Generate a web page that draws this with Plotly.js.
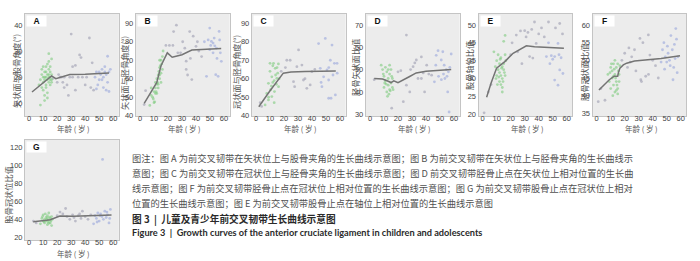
<!DOCTYPE html>
<html><head><meta charset="utf-8">
<script src="https://cdn.plot.ly/plotly-3.0.1.min.js"></script>
<style>html,body{margin:0;padding:0;background:#fff;}#chart{width:700px;height:261px;}</style>
</head><body><div id="chart"></div>
<script>
// ---------- DATA ----------
const xTickVals = [0, 10, 20, 30, 40, 50, 60];
const xTickText = ['0', '10', '20', '30', '40', '50', '60'];
const xTitle = '年龄 ( 岁 )';
const panelLetters = ['A', 'B', 'C', 'D', 'E', 'F', 'G'];
const yTitles = ['矢状面与股骨角度(°)', '矢状面与胫骨角度(°)', '冠状面与胫骨角度(°)', '胫骨矢状面比值', '股骨轴位比值', '胫骨冠状面比值', '股骨冠状位比值'];

// Panel A
const aYTicks = [10, 20, 30, 40];
const aYTickText = ['10', '20', '30', '40'];
const aGreenX = [8, 7, 8, 9, 9, 10, 10, 10, 11, 11, 11, 12, 12, 12, 12, 13, 13, 13, 13, 14, 14, 14, 14, 14, 15, 15, 15, 15, 16, 16, 16, 10, 11, 13, 9, 12, 15, 16, 14, 11];
const aGreenY = [9.3, 17, 19, 21, 23, 18, 20, 15, 22, 19, 11, 17, 20, 24, 16, 19, 21, 25, 12, 20, 18, 23, 26, 29, 20, 17, 22, 24, 19, 21, 27, 24, 13, 14, 16, 22, 19, 18, 21, 20];
const aGrayX = [17, 20, 21, 22, 24, 25, 25, 27, 28, 30, 31, 31, 33, 33, 35, 36, 37, 38, 40, 41, 43, 44, 45, 46, 29, 23];
const aGrayY = [19.5, 18, 21, 20, 18, 20, 16, 17, 13, 36.5, 24, 20, 24.5, 15, 20, 28.5, 27.5, 20, 17, 20, 35, 16, 25.5, 15, 20, 20];
const aBlueX = [47, 48, 49, 50, 51, 52, 52, 53, 54, 54, 55, 55, 56, 56, 57, 57, 58, 53, 50, 48];
const aBlueY = [20, 22, 17, 22, 21, 23, 19, 20, 24, 22, 15, 21, 18, 28, 14.5, 22, 23, 16, 19, 15.5];
const aLineX = [2, 8, 14, 16, 19, 23, 29, 40, 50, 57];
const aLineY = [14.3, 17, 19.8, 20.5, 19.4, 20, 21, 21.1, 21.3, 21.6];

// Panel B
const bYTicks = [40, 50, 60, 70, 80, 90];
const bYTickText = ['40', '50', '60', '70', '80', '90'];
const bGreenX = [7, 8, 9, 9.5, 10, 10.5, 11, 11, 11.5, 12, 12, 12.5, 13, 13, 13.5, 14, 14, 14.5, 15, 15, 15.5, 16, 16, 16.5, 10, 12, 13, 14, 15, 11, 8, 14];
const bGreenY = [45.5, 55, 50, 49, 47, 47.5, 52, 55, 53, 57, 60, 58, 62, 55, 64, 66, 60, 67, 70, 63, 68, 72, 65, 75, 53, 52, 57, 62, 58, 58, 51, 70];
const bGrayX = [3, 4, 18.5, 21, 23.5, 26, 24, 30.5, 32, 33, 33, 34, 35.5, 37, 38, 40, 42, 44, 36, 29, 27, 41];
const bGrayY = [46, 53.5, 78, 78, 78, 89, 85.5, 80, 76.5, 69.5, 65, 62, 85.5, 59.5, 83, 77.5, 75, 72, 71, 74, 74, 80];
const bBlueX = [49.8, 48.7, 51, 52.2, 53.4, 54.6, 56.5, 56.9, 57.4, 58.1, 47.5, 54.1, 55.8, 52.2, 49.8, 46, 50.5, 53, 55];
const bBlueY = [87.4, 81, 80.2, 79.3, 77.8, 76.6, 85.6, 81, 74, 69.4, 61.3, 62.2, 61.3, 74, 75.7, 80, 78, 82, 71];
const bLineX = [3, 7, 12, 15, 19.5, 23, 30, 37, 45, 50, 58];
const bLineY = [46.6, 51.5, 58, 67, 74, 71.6, 73, 75.5, 75.8, 76, 76.3];

// Panel C
const cYTicks = [40, 50, 60, 70, 80, 90];
const cYTickText = ['40', '50', '60', '70', '80', '90'];
const cGreenX = [6.5, 8.9, 10, 12.5, 11.3, 13.7, 14.9, 16.1, 13.2, 11.3, 8.9, 7.7, 10, 12, 14, 15, 16, 11, 13, 9, 12, 14.5, 10.5, 15.5, 13, 16.5];
const cGreenY = [45.8, 48.5, 68.3, 68.3, 61, 65.6, 60.2, 55.7, 53, 50.3, 57.5, 52, 64, 58, 62, 66, 68, 56, 59, 50, 67, 57, 54, 63, 47, 60];
const cGrayX = [22, 24.4, 30.4, 26.8, 29.2, 32.8, 27.6, 33.9, 38.7, 39.9, 36.3, 21, 35, 42, 18, 3, 4];
const cGrayY = [70, 70, 75.6, 58.4, 66.5, 67.4, 55.7, 59.3, 56.6, 63.8, 54.8, 66, 60, 65, 64, 47, 45];
const cBlueX = [44.7, 49.5, 54.3, 53.1, 56, 57.9, 50.7, 48.3, 51.9, 47.1, 51.9, 53.6, 56.7, 45.9, 55, 52, 58, 46.5];
const cBlueY = [79, 81.8, 78.2, 70, 68.3, 68.3, 64.7, 61, 59.3, 55.7, 49.4, 49.4, 51.2, 65.6, 62, 66, 63, 58];
const cLineX = [2, 10, 19.5, 25, 35, 45, 57];
const cLineY = [44.8, 53.5, 63, 63.6, 63.9, 64.1, 64.2];

// Panel D
const dYTicks = [30, 40, 50, 60, 70];
const dYTickText = ['30', '40', '50', '60', '70'];
const dGreenX = [8, 9, 10, 10, 11, 11, 12, 12, 13, 13, 14, 14, 15, 15, 16, 16, 12.5, 13.5, 14.5, 15.5, 11.5, 10.5, 9.5, 16.5, 14, 13];
const dGreenY = [52, 50, 47, 42, 51, 45, 49, 40, 46, 43, 41, 48, 50, 44, 42, 46, 38, 39, 40.5, 47, 43.5, 44, 48, 41, 52, 50];
const dGrayX = [3, 20, 26, 15.5, 23.8, 28.4, 30.8, 33.1, 36.7, 34.3, 36.7, 39, 29, 22, 42, 26, 32, 40.5, 44, 38];
const dGrayY = [45.5, 49, 65.5, 32.7, 35.6, 40, 51.3, 54.3, 55.7, 46, 46, 40, 50, 49.5, 48, 43, 53, 52, 47.5, 48.5];
const dBlueX = [48.6, 47.3, 50.9, 52, 53, 54.5, 55, 56, 57, 58, 49, 51, 53.5, 55.5, 56.5, 47, 46, 52.5];
const dBlueY = [58.5, 56.4, 54.3, 58, 52, 50, 47, 49, 51, 57, 47, 45.5, 46, 40, 31, 52, 44.5, 48];
const dLineX = [3, 9, 13, 15, 17, 20, 28, 33, 40, 48, 55, 58];
const dLineY = [46, 45.8, 44.8, 44.2, 45, 44.1, 46.8, 48.5, 49.3, 49.7, 50, 50];

// Panel E (tick labels as printed in the source)
const eYTicks = [20, 26, 32, 38, 44, 50];
const eYTickText = ['20', '25', '30', '35', '45', '50'];
const eGreenX = [8, 9, 10, 10, 11, 11, 12, 12, 12, 13, 13, 13, 14, 14, 14, 15, 15, 15, 16, 16, 16, 11.5, 12.5, 13.5, 14.5, 15.5, 10.5, 9.5, 16.5, 14];
const eGreenY = [41, 36, 33, 38, 35, 40, 31, 34, 37, 30, 33, 39, 32, 36, 29, 35, 37, 44.5, 40, 46.5, 33, 32.5, 38.5, 35.5, 31, 34, 30, 32, 38, 27.5];
const eGrayX = [1, 4, 6, 20, 24, 27, 30, 32.3, 37, 38.2, 33.5, 35.8, 28, 42, 44, 40, 21, 25, 31, 35, 47, 52, 55, 57];
const eGrayY = [20.5, 27.5, 30, 40, 46.6, 48, 48.1, 47.5, 51, 43.8, 39.4, 38.9, 37, 49, 46, 47, 44, 41, 46, 48.5, 51, 49, 50.5, 47];
const eBlueX = [45.5, 49, 51.4, 53.8, 55, 57.3, 51.4, 53.8, 47, 50, 54.5, 48, 56];
const eBlueY = [39.4, 39.7, 39.4, 43.8, 34.9, 33.7, 31.5, 29.8, 44, 38.5, 40, 37, 39];
const eLineX = [2.8, 6, 9.9, 15.8, 21.7, 27, 31.2, 37, 45, 58];
const eLineY = [25.7, 30.5, 35.5, 37.7, 40.5, 42, 43, 42.7, 42.5, 42.2];

// Panel F
const fYTicks = [35, 40, 45, 50, 55, 60];
const fYTickText = ['35', '40', '45', '50', '55', '60'];
const fGreenX = [8, 9, 10, 10, 11, 11, 12, 12, 13, 13, 14, 14, 15, 15, 15, 16, 16, 12.5, 13.5, 14.5, 11.5, 10.5, 9.5, 16.5, 14, 13, 15.5, 12];
const fGreenY = [46, 44, 48, 42, 47, 45, 43, 49, 41, 46, 44, 48, 42, 49, 40.5, 46, 44, 47.5, 45, 43, 40, 49, 46.5, 48.5, 41.5, 50, 47, 45.5];
const fGrayX = [1.1, 5.9, 3, 18, 20, 22, 25, 27, 30.9, 33, 36.9, 32, 35, 38, 40, 28, 24, 42, 44, 23, 31.5, 37];
const fGrayY = [38.3, 38.7, 42, 50, 52, 48, 51, 53, 56.2, 55, 57.2, 44, 45.5, 51.5, 50, 47, 49.5, 48.5, 45, 53.5, 44.5, 46];
const fBlueX = [47, 48, 49, 50, 51, 52, 53, 54, 55, 56, 57, 58, 48.5, 50.5, 52.5, 54.5, 56.5, 46, 55.5, 57.5];
const fBlueY = [53, 55, 51, 49.5, 52, 50, 57, 53, 48, 50.5, 56, 51, 47.5, 54, 48.5, 44.5, 59, 49.5, 54.5, 46.5];
const fLineX = [1.6, 5, 9, 12.5, 14, 15, 15.5, 16.6, 19, 21.4, 27, 34.5, 46, 59.5];
const fLineY = [41.6, 43, 44.5, 45.5, 45.6, 45.5, 46.5, 47.8, 48.7, 49.2, 49.8, 50.1, 50.5, 51.3];

// Panel G
const gYTicks = [20, 40, 60, 80, 100, 120];
const gYTickText = ['20', '40', '60', '80', '100', '120'];
const gGreenX = [8, 9, 10, 10, 11, 11, 12, 12, 13, 13, 14, 14, 15, 15, 16, 16, 12.5, 13.5, 14.5, 15.5, 11.5, 10.5, 9.5, 16.5, 14, 13];
const gGreenY = [35, 41, 38, 45, 40, 36, 42, 38, 34, 44, 39, 47, 36, 41, 43, 33, 39.5, 37, 42.5, 38, 46, 37.5, 43, 40, 35.5, 41.5];
const gGrayX = [3, 5, 20, 22, 24, 27, 29, 31, 32, 33, 35, 37, 38, 40, 42, 44, 26, 36];
const gGrayY = [38, 36, 44, 48, 46, 43, 40, 45, 42, 38, 44, 41, 49, 43, 40, 45, 52, 46];
const gBlueX = [46, 47, 48, 49, 50, 51, 52, 52.4, 53, 54, 55, 56, 57, 58, 48.5, 55.5, 57.5, 50.5];
const gBlueY = [35, 44, 41, 47, 38, 46, 43, 106.5, 40, 49, 42, 45, 36, 51, 37, 48, 41, 44];
const gLineX = [2.9, 8, 12.4, 15, 18.4, 21.9, 31.4, 40, 50.5, 58.8];
const gLineY = [37.3, 37.8, 38.9, 39.5, 41.8, 43.7, 43.3, 43.5, 43.7, 44.7];

// Caption text
const captionLines = [
  '图注：图 A 为前交叉韧带在矢状位上与股骨夹角的生长曲线示意图；图 B 为前交叉韧带在矢状位上与胫骨夹角的生长曲线示',
  '意图；图 C 为前交叉韧带在冠状位上与胫骨夹角的生长曲线示意图；图 D 前交叉韧带胫骨止点在矢状位上相对位置的生长曲',
  '线示意图；图 F 为前交叉韧带胫骨止点在冠状位上相对位置的生长曲线示意图；图 G 为前交叉韧带股骨止点在冠状位上相对',
  '位置的生长曲线示意图；图 E 为前交叉韧带股骨止点在轴位上相对位置的生长曲线示意图'
];
const figTitleCN = '图 3  |  儿童及青少年前交叉韧带生长曲线示意图';
const figTitleEN = 'Figure 3  |  Growth curves of the anterior cruciate ligament in children and adolescents';

// ---------- LAYOUT ----------
const W = 700, H = 261;
const panels = [
  {gx: aGreenX, gy: aGreenY, px: aGrayX, py: aGrayY, bx: aBlueX, by: aBlueY, lx: aLineX, ly: aLineY, tv: aYTicks, tt: aYTickText},
  {gx: bGreenX, gy: bGreenY, px: bGrayX, py: bGrayY, bx: bBlueX, by: bBlueY, lx: bLineX, ly: bLineY, tv: bYTicks, tt: bYTickText},
  {gx: cGreenX, gy: cGreenY, px: cGrayX, py: cGrayY, bx: cBlueX, by: cBlueY, lx: cLineX, ly: cLineY, tv: cYTicks, tt: cYTickText},
  {gx: dGreenX, gy: dGreenY, px: dGrayX, py: dGrayY, bx: dBlueX, by: dBlueY, lx: dLineX, ly: dLineY, tv: dYTicks, tt: dYTickText},
  {gx: eGreenX, gy: eGreenY, px: eGrayX, py: eGrayY, bx: eBlueX, by: eBlueY, lx: eLineX, ly: eLineY, tv: eYTicks, tt: eYTickText},
  {gx: fGreenX, gy: fGreenY, px: fGrayX, py: fGrayY, bx: fBlueX, by: fBlueY, lx: fLineX, ly: fLineY, tv: fYTicks, tt: fYTickText},
  {gx: gGreenX, gy: gGreenY, px: gGrayX, py: gGrayY, bx: gBlueX, by: gBlueY, lx: gLineX, ly: gLineY, tv: gYTicks, tt: gYTickText}
];
// [left, right, top, bottom] in px
const boxes = [
  [25, 118.8, 13.5, 116], [135.8, 229.6, 13.5, 116], [251.8, 345.6, 13.5, 116],
  [365.8, 459.6, 13.5, 116], [478.5, 572.3, 13.5, 116], [592.5, 686.3, 13.5, 116],
  [25, 118.8, 140, 240]
];
const yRanges = [[5.1, 44.4], [39.8, 95.3], [39.8, 95.3], [29.2, 75.15], [19.43, 53.86], [34.24, 63.26], [17, 128.1]];
const yTitlePos = [[15.5, 71.5], [124, 73], [236, 72], [355, 68], [469, 66], [584, 73], [7.5, 195]];

const CJK = '"Noto Sans CJK SC", sans-serif';
const tickFont = {family: '"Liberation Sans", Arial, sans-serif', size: 7.5, color: '#444'};
const traces = [];
const layout = {
  width: W, height: H, margin: {l: 0, r: 0, t: 0, b: 0},
  paper_bgcolor: '#ffffff', plot_bgcolor: '#ececec', showlegend: false,
  annotations: [], shapes: []
};
const mk = (c) => ({color: c, size: 2.8, opacity: 0.6});

panels.forEach((p, i) => {
  const xa = i === 0 ? 'x' : 'x' + (i + 1);
  const ya = i === 0 ? 'y' : 'y' + (i + 1);
  const xk = i === 0 ? 'xaxis' : 'xaxis' + (i + 1);
  const yk = i === 0 ? 'yaxis' : 'yaxis' + (i + 1);
  const [l, r, t, b] = boxes[i];
  traces.push({type: 'scatter', mode: 'markers', x: p.px, y: p.py, xaxis: xa, yaxis: ya, marker: mk('#9c9cb0'), hoverinfo: 'skip'});
  traces.push({type: 'scatter', mode: 'markers', x: p.bx, y: p.by, xaxis: xa, yaxis: ya, marker: mk('#9aa6dc'), hoverinfo: 'skip'});
  traces.push({type: 'scatter', mode: 'markers', x: p.gx, y: p.gy, xaxis: xa, yaxis: ya, marker: mk('#7fcc7f'), hoverinfo: 'skip'});
  traces.push({type: 'scatter', mode: 'lines', x: p.lx, y: p.ly, xaxis: xa, yaxis: ya, line: {color: '#747474', width: 1.5}, hoverinfo: 'skip'});
  const common = {showline: true, mirror: true, linecolor: '#c4c4c4', linewidth: 1, showgrid: false, zeroline: false, ticks: '', tickfont: tickFont, fixedrange: true};
  layout[xk] = Object.assign({}, common, {domain: [l / W, r / W], range: [-3, 64], anchor: ya, tickmode: 'array', tickvals: xTickVals, ticktext: xTickText, ticklabelstandoff: -5});
  layout[yk] = Object.assign({}, common, {domain: [1 - b / H, 1 - t / H], range: yRanges[i], anchor: xa, tickmode: 'array', tickvals: p.tv, ticktext: p.tt});
  // letter box
  layout.annotations.push({xref: 'paper', yref: 'paper', x: (l + 1) / W, y: 1 - (t + 1) / H, xanchor: 'left', yanchor: 'top',
    text: '<b>' + panelLetters[i] + '</b>', showarrow: false, bgcolor: '#ffffff', width: 19, height: 10, borderpad: 0,
    font: {family: '"Liberation Sans", Arial, sans-serif', size: 8.5, color: '#111'}});
  // x title
  const xtY = i === 6 ? 253.8 : 128.3;
  layout.annotations.push({xref: 'paper', yref: 'paper', x: ((l + r) / 2 + 2) / W, y: 1 - xtY / H, xanchor: 'center', yanchor: 'middle',
    text: xTitle, showarrow: false, font: {family: CJK, size: 7.5, color: '#555'}});
  // y title
  const [tx, ty] = yTitlePos[i];
  layout.annotations.push({xref: 'paper', yref: 'paper', x: tx / W, y: 1 - ty / H, xanchor: 'center', yanchor: 'middle',
    text: yTitles[i], textangle: -90, showarrow: false, font: {family: CJK, size: 8.2, color: '#555'}});
});

const capY = [158.3, 173.3, 188.3, 203.3];
captionLines.forEach((s, k) => {
  layout.annotations.push({xref: 'paper', yref: 'paper', x: 130 / W, y: 1 - capY[k] / H, xanchor: 'left', yanchor: 'middle',
    text: s, showarrow: false, font: {family: CJK, size: 9.25, color: '#505050'}});
});
layout.annotations.push({xref: 'paper', yref: 'paper', x: 130 / W, y: 1 - 219 / H, xanchor: 'left', yanchor: 'middle',
  text: '<b>' + figTitleCN + '</b>', showarrow: false, font: {family: CJK, size: 9.7, color: '#2a2a2a'}});
layout.annotations.push({xref: 'paper', yref: 'paper', x: 130 / W, y: 1 - 232.3 / H, xanchor: 'left', yanchor: 'middle',
  text: '<b>' + figTitleEN + '</b>', showarrow: false, font: {family: 'Lato, "Liberation Sans", sans-serif', size: 9.2, color: '#2a2a2a'}});

Plotly.newPlot('chart', traces, layout, {displayModeBar: false, staticPlot: true});
</script>
</body></html>
